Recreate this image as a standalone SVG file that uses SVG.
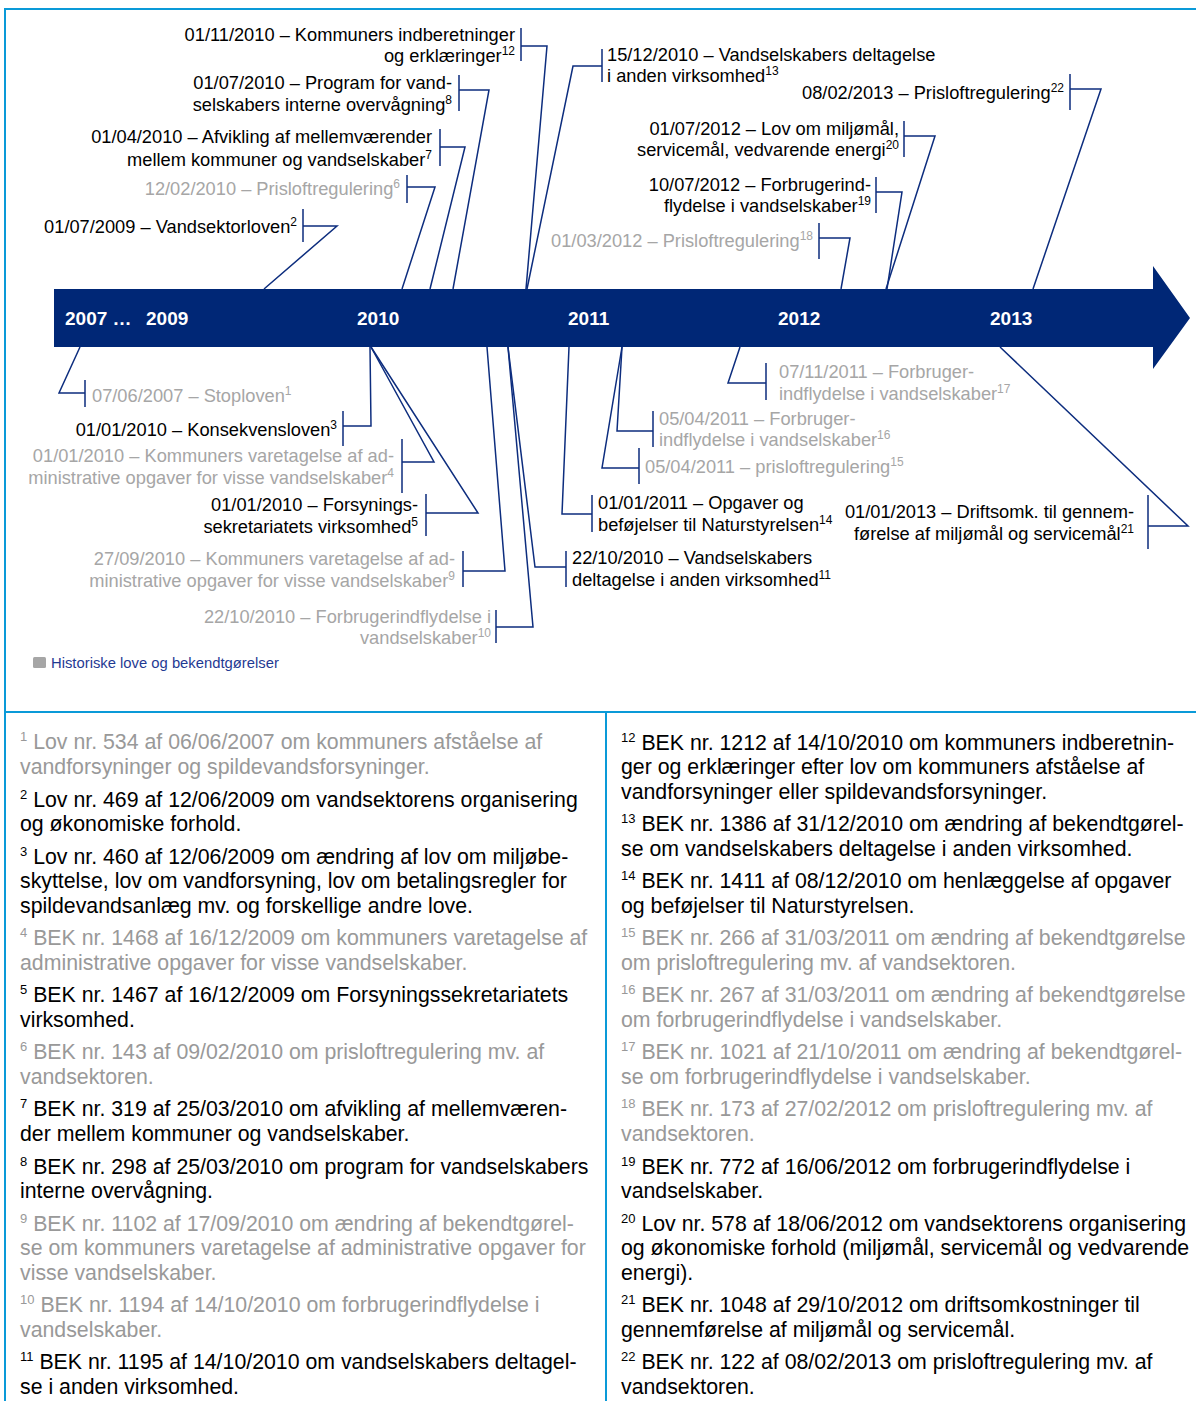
<svg xmlns="http://www.w3.org/2000/svg" width="1196" height="1401" viewBox="0 0 1196 1401">
<style>
text{font-family:"Liberation Sans",Arial,Helvetica,sans-serif}
.l{font-size:18.25px;fill:#000}
.lg{font-size:18.25px;fill:#a6a6a6}
.s{font-size:12px}
.y{font-size:19px;font-weight:bold;fill:#fff}
.f{font-size:21.3px;fill:#000}
.fg{font-size:21.3px;fill:#999}
.fs{font-size:13px}
.c{fill:none;stroke:#0d2d7e;stroke-width:1.5}
.fr{stroke:#0a9ad8;stroke-width:2;fill:none}
</style>
<rect width="1196" height="1401" fill="#fff"/>
<g id="frame">
<line class="fr" x1="5" y1="9" x2="1196" y2="9"/>
<line class="fr" x1="5" y1="8" x2="5" y2="1401"/>
<line class="fr" x1="5" y1="712" x2="1196" y2="712"/>
<line class="fr" x1="606" y1="712" x2="606" y2="1401"/>
</g>
<g id="timeline-bar">
<path d="M54,289 H1153 V266 L1190,318 L1153,369 V347 H54 Z" fill="#002776"/>
<text class="y" x="65" y="325">2007 …</text>
<text class="y" x="146" y="325">2009</text>
<text class="y" x="357" y="325">2010</text>
<text class="y" x="568" y="325">2011</text>
<text class="y" x="778" y="325">2012</text>
<text class="y" x="990" y="325">2013</text>
</g>
<g id="connectors">
<path class="c" d="M521,28V61M521,46H547L526,289"/>
<path class="c" d="M459,75V111M459,90H489L453,289"/>
<path class="c" d="M440,129V166M440,147H465L430,289"/>
<path class="c" d="M407,175V203M407,187H435L402,289"/>
<path class="c" d="M303,209V242M303,226H337L264,289"/>
<path class="c" d="M602,49V82M602,66H573L527,289"/>
<path class="c" d="M1070,74V110M1070,89H1101L1033,289"/>
<path class="c" d="M904,121V157M904,136H935L886,289"/>
<path class="c" d="M876,177V213M876,192H902L887,289"/>
<path class="c" d="M819,223V259M819,238H850L841,289"/>
<path class="c" d="M85,380V407M85,393H59L80,347"/>
<path class="c" d="M343,411V446M343,426H371L370,347"/>
<path class="c" d="M402,439V493M402,462H434L371,347"/>
<path class="c" d="M426,494V536M426,513H478L371,347"/>
<path class="c" d="M463,551V587M463,571H505L487,347"/>
<path class="c" d="M496,610V643M496,627H533L508,347"/>
<path class="c" d="M566,551V587M566,567H535L508,347"/>
<path class="c" d="M592,495V532M592,514H562L569,347"/>
<path class="c" d="M639,448V484M639,468H602L622,347"/>
<path class="c" d="M653,411V447M653,431H617L622,347"/>
<path class="c" d="M766,363V400M766,383H728L740,347"/>
<path class="c" d="M1148,495V549M1148,526H1188L1000,347"/>
</g>
<g id="n12"><text class="l" x="515" y="41" text-anchor="end">01/11/2010 – Kommuners indberetninger</text><text class="l" x="515" y="62" text-anchor="end">og erklæringer<tspan class="s" dy="-7">12</tspan></text></g>
<g id="n8"><text class="l" x="452" y="89" text-anchor="end">01/07/2010 – Program for vand-</text><text class="l" x="452" y="111" text-anchor="end">selskabers interne overvågning<tspan class="s" dy="-7">8</tspan></text></g>
<g id="n7"><text class="l" x="432" y="143" text-anchor="end">01/04/2010 – Afvikling af mellemværender</text><text class="l" x="432" y="166" text-anchor="end">mellem kommuner og vandselskaber<tspan class="s" dy="-7">7</tspan></text></g>
<g id="n6"><text class="lg" x="400" y="195" text-anchor="end">12/02/2010 – Prisloftregulering<tspan class="s" dy="-7">6</tspan></text></g>
<g id="n2"><text class="l" x="297" y="233" text-anchor="end">01/07/2009 – Vandsektorloven<tspan class="s" dy="-7">2</tspan></text></g>
<g id="n13"><text class="l" x="607" y="61">15/12/2010 – Vandselskabers deltagelse</text><text class="l" x="607" y="82">i anden virksomhed<tspan class="s" dy="-7">13</tspan></text></g>
<g id="n22"><text class="l" x="1064" y="99" text-anchor="end">08/02/2013 – Prisloftregulering<tspan class="s" dy="-7">22</tspan></text></g>
<g id="n20"><text class="l" x="899" y="135" text-anchor="end">01/07/2012 – Lov om miljømål,</text><text class="l" x="899" y="156" text-anchor="end">servicemål, vedvarende energi<tspan class="s" dy="-7">20</tspan></text></g>
<g id="n19"><text class="l" x="871" y="191" text-anchor="end">10/07/2012 – Forbrugerind-</text><text class="l" x="871" y="212" text-anchor="end">flydelse i vandselskaber<tspan class="s" dy="-7">19</tspan></text></g>
<g id="n18"><text class="lg" x="813" y="247" text-anchor="end">01/03/2012 – Prisloftregulering<tspan class="s" dy="-7">18</tspan></text></g>
<g id="n1"><text class="lg" x="92" y="402">07/06/2007 – Stoploven<tspan class="s" dy="-7">1</tspan></text></g>
<g id="n3"><text class="l" x="337" y="436" text-anchor="end">01/01/2010 – Konsekvensloven<tspan class="s" dy="-7">3</tspan></text></g>
<g id="n4"><text class="lg" x="394" y="462" text-anchor="end">01/01/2010 – Kommuners varetagelse af ad-</text><text class="lg" x="394" y="484" text-anchor="end">ministrative opgaver for visse vandselskaber<tspan class="s" dy="-7">4</tspan></text></g>
<g id="n5"><text class="l" x="418" y="511" text-anchor="end">01/01/2010 – Forsynings-</text><text class="l" x="418" y="533" text-anchor="end">sekretariatets virksomhed<tspan class="s" dy="-7">5</tspan></text></g>
<g id="n9"><text class="lg" x="455" y="565" text-anchor="end">27/09/2010 – Kommuners varetagelse af ad-</text><text class="lg" x="455" y="587" text-anchor="end">ministrative opgaver for visse vandselskaber<tspan class="s" dy="-7">9</tspan></text></g>
<g id="n10"><text class="lg" x="491" y="623" text-anchor="end">22/10/2010 – Forbrugerindflydelse i</text><text class="lg" x="491" y="644" text-anchor="end">vandselskaber<tspan class="s" dy="-7">10</tspan></text></g>
<g id="n11"><text class="l" x="572" y="564">22/10/2010 – Vandselskabers</text><text class="l" x="572" y="586">deltagelse i anden virksomhed<tspan class="s" dy="-7">11</tspan></text></g>
<g id="n14"><text class="l" x="598" y="509">01/01/2011 – Opgaver og</text><text class="l" x="598" y="531">beføjelser til Naturstyrelsen<tspan class="s" dy="-7">14</tspan></text></g>
<g id="n15"><text class="lg" x="645" y="473">05/04/2011 – prisloftregulering<tspan class="s" dy="-7">15</tspan></text></g>
<g id="n16"><text class="lg" x="659" y="425">05/04/2011 – Forbruger-</text><text class="lg" x="659" y="446">indflydelse i vandselskaber<tspan class="s" dy="-7">16</tspan></text></g>
<g id="n17"><text class="lg" x="779" y="378">07/11/2011 – Forbruger-</text><text class="lg" x="779" y="400">indflydelse i vandselskaber<tspan class="s" dy="-7">17</tspan></text></g>
<g id="n21"><text class="l" x="1134" y="518" text-anchor="end">01/01/2013 – Driftsomk. til gennem-</text><text class="l" x="1134" y="540" text-anchor="end">førelse af miljømål og servicemål<tspan class="s" dy="-7">21</tspan></text></g>
<g id="legend">
<rect x="33" y="657" width="13" height="11" rx="1.5" fill="#a6a6a6"/>
<text x="51" y="668" font-size="14.8" fill="#1f3a93">Historiske love og bekendtgørelser</text>
</g>
<g id="footnotes-left">
<text class="fg" x="20" y="749"><tspan class="fs" dy="-8">1</tspan><tspan dy="8"> Lov nr. 534 af 06/06/2007 om kommuners afståelse af</tspan></text>
<text class="fg" x="20" y="774">vandforsyninger og spildevandsforsyninger.</text>
<text class="f" x="20" y="807"><tspan class="fs" dy="-8">2</tspan><tspan dy="8"> Lov nr. 469 af 12/06/2009 om vandsektorens organisering</tspan></text>
<text class="f" x="20" y="831">og økonomiske forhold.</text>
<text class="f" x="20" y="864"><tspan class="fs" dy="-8">3</tspan><tspan dy="8"> Lov nr. 460 af 12/06/2009 om ændring af lov om miljøbe-</tspan></text>
<text class="f" x="20" y="888">skyttelse, lov om vandforsyning, lov om betalingsregler for</text>
<text class="f" x="20" y="913">spildevandsanlæg mv. og forskellige andre love.</text>
<text class="fg" x="20" y="945"><tspan class="fs" dy="-8">4</tspan><tspan dy="8"> BEK nr. 1468 af 16/12/2009 om kommuners varetagelse af</tspan></text>
<text class="fg" x="20" y="970">administrative opgaver for visse vandselskaber.</text>
<text class="f" x="20" y="1002"><tspan class="fs" dy="-8">5</tspan><tspan dy="8"> BEK nr. 1467 af 16/12/2009 om Forsyningssekretariatets</tspan></text>
<text class="f" x="20" y="1027">virksomhed.</text>
<text class="fg" x="20" y="1059"><tspan class="fs" dy="-8">6</tspan><tspan dy="8"> BEK nr. 143 af 09/02/2010 om prisloftregulering mv. af</tspan></text>
<text class="fg" x="20" y="1084">vandsektoren.</text>
<text class="f" x="20" y="1116"><tspan class="fs" dy="-8">7</tspan><tspan dy="8"> BEK nr. 319 af 25/03/2010 om afvikling af mellemværen-</tspan></text>
<text class="f" x="20" y="1141">der mellem kommuner og vandselskaber.</text>
<text class="f" x="20" y="1174"><tspan class="fs" dy="-8">8</tspan><tspan dy="8"> BEK nr. 298 af 25/03/2010 om program for vandselskabers</tspan></text>
<text class="f" x="20" y="1198">interne overvågning.</text>
<text class="fg" x="20" y="1231"><tspan class="fs" dy="-8">9</tspan><tspan dy="8"> BEK nr. 1102 af 17/09/2010 om ændring af bekendtgørel-</tspan></text>
<text class="fg" x="20" y="1255">se om kommuners varetagelse af administrative opgaver for</text>
<text class="fg" x="20" y="1280">visse vandselskaber.</text>
<text class="fg" x="20" y="1312"><tspan class="fs" dy="-8">10</tspan><tspan dy="8"> BEK nr. 1194 af 14/10/2010 om forbrugerindflydelse i</tspan></text>
<text class="fg" x="20" y="1337">vandselskaber.</text>
<text class="f" x="20" y="1369"><tspan class="fs" dy="-8">11</tspan><tspan dy="8"> BEK nr. 1195 af 14/10/2010 om vandselskabers deltagel-</tspan></text>
<text class="f" x="20" y="1394">se i anden virksomhed.</text>
</g>
<g id="footnotes-right">
<text class="f" x="621" y="750"><tspan class="fs" dy="-8">12</tspan><tspan dy="8"> BEK nr. 1212 af 14/10/2010 om kommuners indberetnin-</tspan></text>
<text class="f" x="621" y="774">ger og erklæringer efter lov om kommuners afståelse af</text>
<text class="f" x="621" y="799">vandforsyninger eller spildevandsforsyninger.</text>
<text class="f" x="621" y="831"><tspan class="fs" dy="-8">13</tspan><tspan dy="8"> BEK nr. 1386 af 31/12/2010 om ændring af bekendtgørel-</tspan></text>
<text class="f" x="621" y="856">se om vandselskabers deltagelse i anden virksomhed.</text>
<text class="f" x="621" y="888"><tspan class="fs" dy="-8">14</tspan><tspan dy="8"> BEK nr. 1411 af 08/12/2010 om henlæggelse af opgaver</tspan></text>
<text class="f" x="621" y="913">og beføjelser til Naturstyrelsen.</text>
<text class="fg" x="621" y="945"><tspan class="fs" dy="-8">15</tspan><tspan dy="8"> BEK nr. 266 af 31/03/2011 om ændring af bekendtgørelse</tspan></text>
<text class="fg" x="621" y="970">om prisloftregulering mv. af vandsektoren.</text>
<text class="fg" x="621" y="1002"><tspan class="fs" dy="-8">16</tspan><tspan dy="8"> BEK nr. 267 af 31/03/2011 om ændring af bekendtgørelse</tspan></text>
<text class="fg" x="621" y="1027">om forbrugerindflydelse i vandselskaber.</text>
<text class="fg" x="621" y="1059"><tspan class="fs" dy="-8">17</tspan><tspan dy="8"> BEK nr. 1021 af 21/10/2011 om ændring af bekendtgørel-</tspan></text>
<text class="fg" x="621" y="1084">se om forbrugerindflydelse i vandselskaber.</text>
<text class="fg" x="621" y="1116"><tspan class="fs" dy="-8">18</tspan><tspan dy="8"> BEK nr. 173 af 27/02/2012 om prisloftregulering mv. af</tspan></text>
<text class="fg" x="621" y="1141">vandsektoren.</text>
<text class="f" x="621" y="1174"><tspan class="fs" dy="-8">19</tspan><tspan dy="8"> BEK nr. 772 af 16/06/2012 om forbrugerindflydelse i</tspan></text>
<text class="f" x="621" y="1198">vandselskaber.</text>
<text class="f" x="621" y="1231"><tspan class="fs" dy="-8">20</tspan><tspan dy="8"> Lov nr. 578 af 18/06/2012 om vandsektorens organisering</tspan></text>
<text class="f" x="621" y="1255">og økonomiske forhold (miljømål, servicemål og vedvarende</text>
<text class="f" x="621" y="1280">energi).</text>
<text class="f" x="621" y="1312"><tspan class="fs" dy="-8">21</tspan><tspan dy="8"> BEK nr. 1048 af 29/10/2012 om driftsomkostninger til</tspan></text>
<text class="f" x="621" y="1337">gennemførelse af miljømål og servicemål.</text>
<text class="f" x="621" y="1369"><tspan class="fs" dy="-8">22</tspan><tspan dy="8"> BEK nr. 122 af 08/02/2013 om prisloftregulering mv. af</tspan></text>
<text class="f" x="621" y="1394">vandsektoren.</text>
</g>
</svg>
